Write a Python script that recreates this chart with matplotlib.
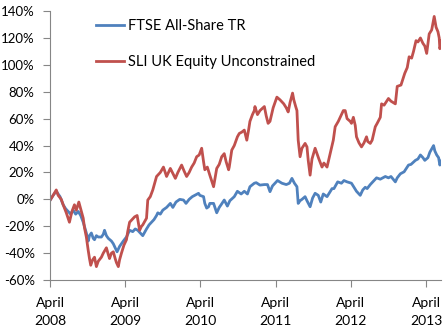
import matplotlib.pyplot as plt
import numpy as np

# months since April 2008, cumulative return in %
sli_months = [0.1, 0.5, 1.0, 1.3, 1.8, 2.1, 2.6, 3.1, 3.5, 3.9, 4.2, 4.6, 5.0, 5.3, 5.5, 5.8,
              6.1, 6.3, 6.5, 6.8, 7.1, 7.4, 7.7, 8.2, 8.5, 9.0, 9.3, 9.5, 9.8, 10.1, 10.4, 10.6,
              10.9, 11.1, 11.4, 11.8, 12.2, 12.4, 12.7, 13.1, 13.5, 13.9, 14.3, 14.6, 14.8, 15.4,
              15.6, 16.0, 16.4, 17.0, 17.6, 18.1, 18.6, 19.2, 20.0, 20.4, 21.0, 21.4, 21.8, 22.2,
              22.6, 23.0, 23.4, 23.8, 24.2, 24.5, 24.7, 25.1, 25.5, 26.1, 26.3, 26.6, 27.0, 27.4,
              27.8, 28.1, 28.5, 28.6, 29.0, 29.4, 29.9, 30.2, 30.6, 31.0, 31.4, 31.7, 31.9, 32.3,
              32.6, 32.7, 33.1, 33.5, 34.2, 34.5, 34.8, 35.1, 35.6, 36.2, 36.7, 37.3, 37.7, 38.0,
              38.3, 38.7, 38.9, 39.2, 39.4, 39.6, 39.9, 40.2, 40.7, 41.0, 41.2, 41.5, 41.8, 42.3,
              42.6, 42.9, 43.4, 43.7, 44.2, 44.7, 45.2, 45.5, 46.0, 46.4, 46.8, 47.1, 47.4, 47.9,
              48.1, 48.4, 48.7, 48.9, 49.3, 49.7, 50.1, 50.5, 50.7, 51.1, 51.4, 51.9, 52.2, 52.7,
              52.9, 53.3, 54.0, 54.4, 55.1, 55.4, 56.0, 56.6, 57.0, 57.3, 57.7, 58.0, 58.4, 58.7,
              59.1, 59.5, 59.8, 60.1, 60.5, 60.9, 61.3, 61.6, 61.9, 62.1, 62.2, 62.5]
sli_values = [0, 3, 7, 3, 0, -4, -10, -17, -9, -4, -8, -2, -9, -14, -21, -28,
              -38, -44, -49, -45, -43, -50, -46, -43, -40, -36, -41, -44, -40, -39, -44, -47,
              -50, -45, -40, -34, -30, -24, -17, -15, -13, -12, -23, -20, -19, -14,
              -0.5, 2, 7, 17, 20, 24, 17, 23, 15.6, 20, 25.5, 21, 17, 20,
              24, 27, 31.7, 33, 38, 28, 22, 24, 18, 9.4, 15, 23, 26, 31.7,
              34, 28, 22, 24, 36.6, 40, 46.5, 49, 50, 51.5, 44, 52, 58, 63,
              66, 69, 63, 66, 69, 62, 56.5, 58, 68, 76, 74, 71, 68, 65,
              72, 79, 74, 69, 66, 44, 31.7, 38, 41.6, 39, 29, 18, 30, 38,
              34, 30, 24, 27, 24, 34, 44, 54, 58, 62, 66, 66, 60, 58,
              56.5, 61, 55, 46.5, 42, 39, 42, 46.5, 43, 41.6, 44, 54, 56.5, 61,
              71, 70, 75, 73, 71, 84, 85, 93.7, 98, 106, 105, 110, 118, 117,
              120, 116, 114, 108.5, 123, 126, 136, 128, 124.6, 120, 112, 118]

ftse_months = [0.1, 0.5, 1.0, 1.6, 2.1, 2.5, 2.9, 3.3, 3.7, 4.1, 4.5, 4.9, 5.3, 5.8, 6.1, 6.3,
               6.6, 6.9, 7.1, 7.4, 7.7, 8.2, 8.5, 8.7, 9.0, 9.3, 9.8, 10.1, 10.3, 10.7, 11.1, 11.7,
               12.2, 12.7, 13.2, 13.6, 14.0, 14.4, 14.8, 15.4, 15.8, 16.2, 16.6, 17.0, 17.2, 17.6,
               18.0, 18.6, 19.2, 19.6, 20.1, 20.7, 21.3, 21.7, 22.2, 22.7, 23.1, 23.7, 23.9, 24.5,
               24.7, 25.0, 25.3, 25.5, 26.1, 26.6, 27.0, 27.3, 27.8, 28.3, 28.7, 29.4, 29.9, 30.5,
               31.0, 31.5, 31.9, 32.6, 32.9, 33.5, 34.2, 34.7, 35.1, 35.5, 36.3, 37.0, 37.7, 38.2,
               38.6, 39.0, 39.4, 39.6, 39.9, 40.2, 40.7, 41.0, 41.5, 41.9, 42.3, 42.8, 43.2, 43.6,
               44.2, 45.0, 45.3, 45.9, 46.5, 46.9, 47.4, 48.1, 48.5, 48.9, 49.5, 49.9, 50.3, 50.6,
               51.1, 51.5, 52.1, 52.7, 53.5, 54.0, 54.4, 55.1, 55.4, 55.9, 56.5, 57.2, 57.6, 58.3,
               58.7, 59.1, 59.5, 59.8, 60.3, 60.6, 61.2, 61.4, 61.7, 62.0, 62.2, 62.5]
ftse_values = [0, 3, 6, 2, -4, -7, -9, -11, -8, -11, -9, -12, -17, -25, -31, -27,
               -25, -29, -30, -27, -28, -28, -26, -23, -27, -29, -31, -33, -35, -39, -35, -31,
               -28, -23, -24, -22, -23, -25, -27, -22, -19, -17, -15, -12, -10, -11,
               -8, -6, -3, -6, -2, 0, -0.5, -3, 0, 2, 3, 4.5, 3, 2,
               -3, -6.5, -5.5, -3, -3, -10, -6, -4, -0.5, -5, -1, 2, 6, 4,
               6, 4, 9.4, 12, 12.4, 10.6, 11, 11, 5.7, 10, 14, 12, 11, 12,
               15.6, 12, 9.4, -3, -1, 0, 2, -1, -5.5, 1, 4.5, 3, -2, 4,
               2, 8, 8, 13, 12, 14, 13, 12, 9, 6, 3, 7, 9, 8,
               11, 13, 16, 15, 17, 16, 17, 13, 16, 19, 20.5, 25.5, 26, 29,
               30, 33, 31, 29, 31, 35, 40, 36, 33, 31, 25.5, 29]

tick_months = [0, 12, 24, 36, 48, 60]
tick_labels = ["April\n2008", "April\n2009", "April\n2010", "April\n2011", "April\n2012", "April\n2013"]

plt.rcParams['font.family'] = ['Lato', 'DejaVu Sans']

fig = plt.figure(figsize=(4.48, 3.35), dpi=100)
ax = fig.add_axes([0.1116, 0.164, 0.873, 0.803])

ax.plot(ftse_months, ftse_values, color='#4F81BD', lw=2, label='FTSE All-Share TR')
ax.plot(sli_months, sli_values, color='#C0504D', lw=2, label='SLI UK Equity Unconstrained')

ax.set_xlim(0, 62.4)
ax.set_ylim(-60, 140)
ax.set_yticks(np.arange(-60, 141, 20))
ax.set_yticklabels([f"{v}%" for v in range(-60, 141, 20)])
ax.set_xticks(tick_months)
ax.set_xticklabels(tick_labels, linespacing=1.6)

for s in ['top', 'right']:
    ax.spines[s].set_visible(False)
for s in ['left', 'bottom']:
    ax.spines[s].set_color('#868686')
ax.tick_params(axis='y', length=5, color='#868686', labelsize=9.5, pad=6)
ax.tick_params(axis='x', length=5, color='#868686', labelsize=10, pad=7)

leg = ax.legend(loc='upper left', bbox_to_anchor=(0.085, 1.02), frameon=False, fontsize=10.5,
                handlelength=1.9, handletextpad=0.3, labelspacing=1.55)

fig.savefig('out.png', dpi=100)
